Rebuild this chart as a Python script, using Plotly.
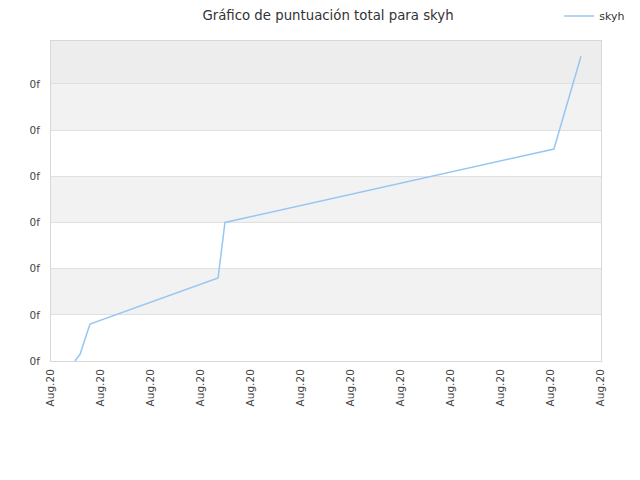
import datetime as dt

import plotly.graph_objects as go

title = "Gráfico de puntuación total para skyh"
series_name = "skyh"

# time of each score change (hours after the first axis tick) and the score level
hours = [11.5, 14.0, 18.7, 80.2, 83.5, 241.4, 254.4]
scores = [0.0, 0.15, 0.8, 1.8, 3.0, 4.59, 6.6]

start = dt.datetime(2020, 8, 10)
x_dates = [start + dt.timedelta(hours=h) for h in hours]
x_ticks = [start + dt.timedelta(days=d) for d in range(12)]
y_ticks = [0, 1, 2, 3, 4, 5, 6]
y_tick_labels = ["0f"] * len(y_ticks)
y_top = 6.93

fig = go.Figure()
fig.add_trace(
    go.Scatter(
        x=x_dates,
        y=scores,
        mode="lines",
        name=series_name,
        line={"color": "#98c6f3", "width": 1.5},
    )
)

# alternating bands like the original
shapes = []
for low in y_ticks:
    high = low + 1 if low < y_ticks[-1] else y_top
    if low == y_ticks[-1]:
        color = "#ededed"
    elif low % 2 == 1:
        color = "#f2f2f2"
    else:
        continue
    shapes.append(
        {
            "type": "rect",
            "xref": "paper",
            "yref": "y",
            "x0": 0,
            "x1": 1,
            "y0": low,
            "y1": high,
            "fillcolor": color,
            "line": {"width": 0},
            "layer": "below",
        }
    )

# the page body adds ~7px of offset, so margins are pulled in by that much
fig.update_layout(
    width=640,
    height=480,
    title={
        "text": title,
        "x": 0.5,
        "xanchor": "center",
        "y": 0.985,
        "yanchor": "middle",
        "font": {"family": "DejaVu Sans", "size": 13.3, "color": "#333333"},
    },
    font={"family": "DejaVu Sans", "size": 10.5, "color": "#444444"},
    plot_bgcolor="white",
    paper_bgcolor="white",
    margin={"l": 43, "r": 47, "t": 33, "b": 127, "autoexpand": False},
    shapes=shapes,
    showlegend=True,
    legend={
        "x": 0.924,
        "xanchor": "left",
        "y": 1.078,
        "yanchor": "middle",
        "itemwidth": 30,
        "font": {"size": 11, "color": "#333333"},
        "bgcolor": "rgba(0,0,0,0)",
    },
    xaxis={
        "range": [x_ticks[0], x_ticks[-1]],
        "tickvals": x_ticks,
        "tickformat": "%b.%y",
        "tickangle": -90,
        "showgrid": False,
        "showline": True,
        "linecolor": "#d8d8d8",
        "mirror": True,
        "ticks": "",
        "ticklabelstandoff": 3,
        "zeroline": False,
    },
    yaxis={
        "range": [0, y_top],
        "tickvals": y_ticks,
        "ticktext": y_tick_labels,
        "showgrid": True,
        "gridcolor": "#e0e0e0",
        "showline": True,
        "linecolor": "#d8d8d8",
        "mirror": True,
        "zeroline": False,
        "ticks": "",
        "ticklabelstandoff": 8,
    },
)

fig.write_html("out.html")
